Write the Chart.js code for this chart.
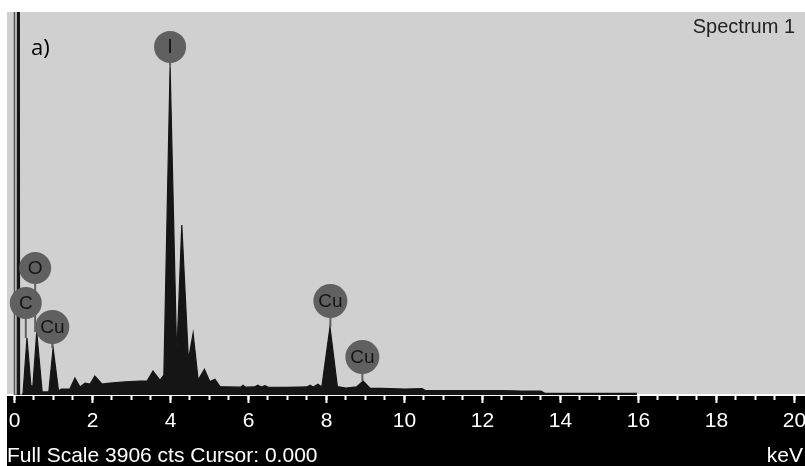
<!DOCTYPE html>
<html>
<head>
<meta charset="utf-8">
<style>
  html, body { margin: 0; padding: 0; background: #fff; }
  #wrap { width: 805px; height: 466px; position: relative; }
</style>
<script src="https://cdn.jsdelivr.net/npm/chart.js@4/dist/chart.umd.min.js"></script>
</head>
<body>
<div id="wrap"><canvas id="chart"></canvas></div>
<script>
// EDS spectrum, energy in keV and counts
const energies = [0.00, 0.07, 0.10, 0.13, 0.20, 0.22, 0.32, 0.42, 0.47, 0.57, 0.71, 0.88, 0.99, 1.13, 1.20, 1.37,
  1.42, 1.55, 1.68, 1.81, 1.94, 2.06, 2.24, 2.45, 2.83, 3.22, 3.40, 3.55, 3.73, 3.83, 3.99, 4.16, 4.29, 4.46,
  4.58, 4.71, 4.87, 5.01, 5.14, 5.27, 5.50, 5.80, 5.86, 5.92, 6.15, 6.24, 6.33, 6.42, 6.50, 7.00, 7.50, 7.58,
  7.66, 7.78, 7.88, 8.09, 8.28, 8.50, 8.77, 8.94, 9.12, 9.40, 10.00, 10.45, 10.55, 11.00, 12.00, 12.50, 13.00,
  13.50, 13.60, 14.50, 15.20, 15.30, 15.96];
const counts = [0, 0, 20000, 0, 0, 20, 581, 100, 82, 643, 31, 31, 479, 41, 61, 61,
  61, 173, 82, 122, 112, 194, 112, 122, 133, 143, 143, 245, 153, 204, 3350, 388, 1734, 357,
  629, 153, 262, 136, 160, 85, 82, 80, 100, 80, 82, 100, 82, 95, 80, 78, 82, 100,
  82, 110, 82, 694, 85, 71, 82, 143, 68, 68, 60, 65, 44, 44, 44, 45, 40,
  40, 17, 17, 17, 17, 17];

const fullScale = 3906;
const cursorKeV = 0.0;
const tickLabels = [0, 2, 4, 6, 8, 10, 12, 14, 16, 18, 20];
const minorStep = 0.5;

// element markers: name, energy, circle height (cts), peak top (cts)
const markerNames = ['I', 'O', 'C', 'Cu', 'Cu', 'Cu'];
const markerKeV = [3.99, 0.53, 0.29, 0.97, 8.10, 8.92];
const markerCts = [3550, 1295, 938, 694, 959, 388];
const markerPeakCts = [3350, 643, 581, 479, 694, 143];

const panelLabel = 'a)';
const spectrumName = 'Spectrum 1';
const unitLabel = 'keV';

const minorTicks = [];
for (let v = 0; v <= 20; v += minorStep) minorTicks.push(v);

const sansFont = '"Liberation Sans", Arial, sans-serif';

const framePlugin = {
  id: 'frame',
  beforeDraw(chart) {
    const {ctx, chartArea: a, width, height} = chart;
    ctx.save();
    ctx.fillStyle = '#fff';
    ctx.fillRect(0, 0, width, height);
    ctx.fillStyle = '#d0d0d0';
    ctx.fillRect(a.left, a.top, a.right - a.left, a.bottom - a.top);
    ctx.fillStyle = '#000';
    ctx.fillRect(a.left, a.bottom, a.right - a.left, height - a.bottom);
    ctx.restore();
  },
  afterDatasetsDraw(chart) {
    const {ctx, chartArea: a, scales: {x, y}} = chart;
    ctx.save();
    // cursor line
    const cx = x.getPixelForValue(cursorKeV);
    ctx.strokeStyle = '#555';
    ctx.lineWidth = 1.5;
    ctx.beginPath();
    ctx.moveTo(cx, a.top);
    ctx.lineTo(cx, a.bottom);
    ctx.stroke();
    // element markers
    markerNames.forEach((name, i) => {
      const px = x.getPixelForValue(markerKeV[i]);
      const py = y.getPixelForValue(markerCts[i]);
      const pk = y.getPixelForValue(markerPeakCts[i]);
      const r = name.length > 1 ? 17 : 16;
      ctx.strokeStyle = '#606060';
      ctx.lineWidth = 2;
      ctx.beginPath();
      ctx.moveTo(px, py);
      ctx.lineTo(px, pk);
      ctx.stroke();
      ctx.fillStyle = '#606060';
      ctx.beginPath();
      ctx.arc(px, py, r, 0, Math.PI * 2);
      ctx.fill();
      ctx.fillStyle = '#151515';
      ctx.font = (name === 'I' ? '20px ' : '19px ') + sansFont;
      ctx.textAlign = 'center';
      ctx.textBaseline = 'middle';
      ctx.fillText(name, px, py + 1);
    });
    ctx.restore();
  },
  afterDraw(chart) {
    const {ctx, chartArea: a, scales: {x}, width, height} = chart;
    ctx.save();
    // taller ticks at labelled energies
    ctx.strokeStyle = '#fff';
    ctx.lineWidth = 2;
    tickLabels.forEach(v => {
      const px = x.getPixelForValue(v);
      ctx.beginPath();
      ctx.moveTo(px, a.bottom);
      ctx.lineTo(px, a.bottom + 8);
      ctx.stroke();
    });
    ctx.fillStyle = '#fff';
    ctx.font = '21px ' + sansFont;
    ctx.textBaseline = 'alphabetic';
    ctx.textAlign = 'left';
    ctx.fillText('Full Scale ' + fullScale + ' cts Cursor: ' + cursorKeV.toFixed(3), a.left, height - 4);
    ctx.textAlign = 'right';
    ctx.fillText(unitLabel, width - 2, height - 4);
    ctx.fillStyle = '#222';
    ctx.font = '20px ' + sansFont;
    ctx.fillText(spectrumName, 795, 33);
    ctx.fillStyle = '#000';
    ctx.textAlign = 'left';
    ctx.font = '22px "Open Sans", sans-serif';
    ctx.fillText(panelLabel, 31, 55);
    ctx.restore();
  }
};

new Chart(document.getElementById('chart'), {
  type: 'line',
  data: {
    datasets: [{
      data: energies.map((e, i) => ({x: e, y: counts[i]})),
      backgroundColor: '#151515',
      borderColor: '#151515',
      borderWidth: 1.2,
      pointRadius: 0,
      tension: 0,
      fill: 'origin'
    }]
  },
  options: {
    responsive: true,
    maintainAspectRatio: false,
    animation: false,
    events: [],
    layout: {padding: {top: 12, left: 7, right: 0, bottom: 0}},
    plugins: {legend: {display: false}, tooltip: {enabled: false}},
    scales: {
      x: {
        type: 'linear',
        min: -0.192,
        max: 20.27,
        afterBuildTicks: s => { s.ticks = minorTicks.map(v => ({value: v})); },
        afterFit: s => { s.height = 71; s.paddingLeft = 0; s.paddingRight = 0; },
        grid: {drawOnChartArea: false, color: '#fff', tickLength: 5, tickWidth: 2},
        border: {color: '#fff', width: 2},
        ticks: {
          color: '#fff',
          font: {family: sansFont, size: 21},
          padding: 9,
          maxRotation: 0,
          autoSkip: false,
          callback: v => tickLabels.includes(v) ? String(v) : ''
        }
      },
      y: {display: false, min: 0, max: fullScale}
    }
  },
  plugins: [framePlugin]
});
</script>
</body>
</html>
